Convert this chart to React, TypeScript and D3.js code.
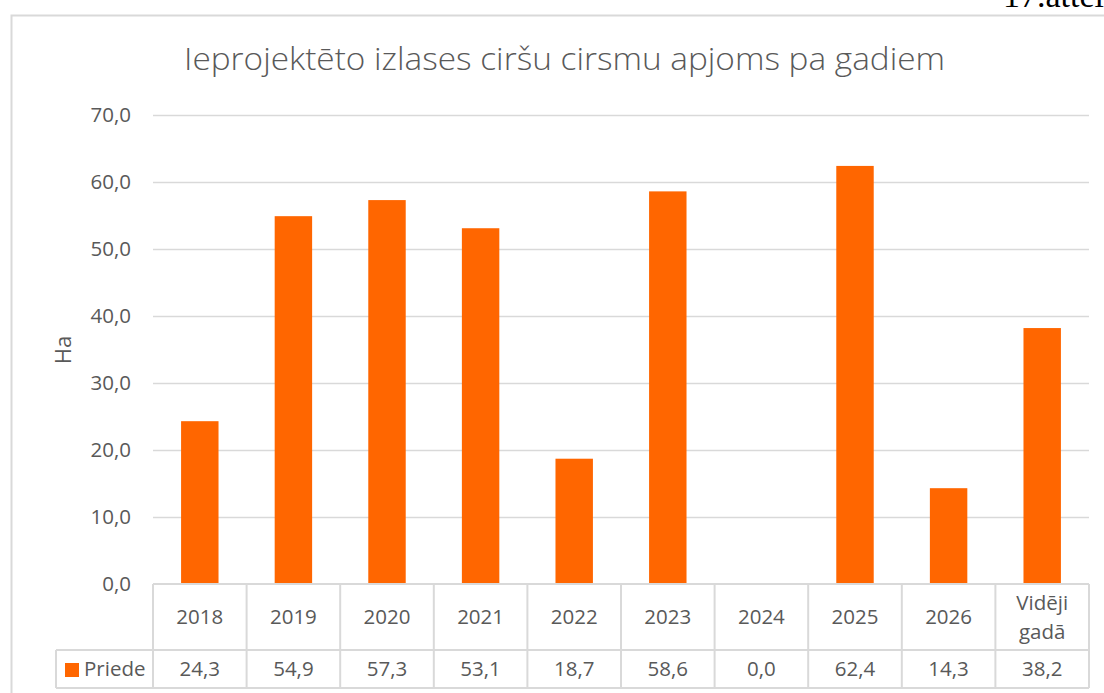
import React from "react";
import * as d3 from "d3";

const categories = ["2018", "2019", "2020", "2021", "2022", "2023", "2024", "2025", "2026", "Vidēji gadā"];
const values = [24.3, 54.9, 57.3, 53.1, 18.7, 58.6, 0.0, 62.4, 14.3, 38.2];
const yTicks = [0, 10, 20, 30, 40, 50, 60, 70];
const seriesName = "Priede";
const title = "Ieprojektēto izlases ciršu cirsmu apjoms pa gadiem";
const yTitle = "Ha";
const figLabel = "17.attēls";

const W = 1104;
const H = 693;
const FONT = "'Open Sans', 'Noto Sans', sans-serif";
const TXT = "#595959";
const GRID = "#d9d9d9";
const ORANGE = "#FF6600";
const FS = 20.5;

const fmt = (v: number) => v.toFixed(1).replace(".", ",");

export default function App() {
  const plotLeft = 153;
  const plotRight = 1089;
  const y = d3.scaleLinear().domain([0, 70]).range([584, 115]);
  const x = d3.scaleBand<string>().domain(categories).range([plotLeft, plotRight]).paddingInner(0).paddingOuter(0);
  const bw = x.bandwidth();
  const barW = bw * 0.4;
  const row1Top = y(0);
  const row1Bot = 650;
  const row2Bot = 688;
  const legLeft = 56;

  return (
    <svg width={W} height={H} style={{ position: "absolute", left: 0, top: 0, background: "#fff" }} fontFamily={FONT}>
      <rect x={0} y={0} width={W} height={H} fill="#fff" />
      <text x={1003} y={7} fontFamily="'Liberation Serif', 'DejaVu Serif', serif" fontSize={34} fill="#000">{figLabel}</text>
      <path d={`M11.5,${H + 5} V15.5 H${W + 5}`} fill="none" stroke={GRID} strokeWidth={2} />
      <text x={184} y={70} textLength={761} lengthAdjust="spacingAndGlyphs" fontSize={32} fontWeight={300} fill={TXT}>{title}</text>
      <text transform={`translate(71,350) rotate(-90)`} textAnchor="middle" fontSize={22} fill={TXT}>{yTitle}</text>
      {yTicks.map((t) => (
        <g key={t}>
          {t > 0 && <line x1={plotLeft} x2={plotRight} y1={Math.round(y(t)) + 0.5} y2={Math.round(y(t)) + 0.5} stroke={GRID} strokeWidth={1.5} />}
          <text x={131} y={y(t)} dy="0.35em" textAnchor="end" fontSize={FS} fill={TXT}>{fmt(t)}</text>
        </g>
      ))}
      {categories.map((c, i) => (
        <rect key={c} x={(x(c) as number) + (bw - barW) / 2} y={y(values[i])} width={barW} height={y(0) - y(values[i])} fill={ORANGE} />
      ))}
      <g stroke={GRID} strokeWidth={2} fill="none">
        <line x1={plotLeft} x2={plotRight} y1={row1Top} y2={row1Top} />
        <line x1={legLeft} x2={plotRight} y1={row1Bot} y2={row1Bot} />
        <line x1={legLeft} x2={plotRight} y1={row2Bot} y2={row2Bot} />
        <line x1={legLeft} x2={legLeft} y1={row1Bot} y2={row2Bot} />
        {categories.map((c) => (
          <line key={c} x1={x(c)} x2={x(c)} y1={row1Top} y2={row2Bot} />
        ))}
        <line x1={plotRight} x2={plotRight} y1={row1Top} y2={row2Bot} />
      </g>
      {categories.map((c, i) => {
        const cx = (x(c) as number) + bw / 2;
        const words = c.split(" ");
        return (
          <g key={c}>
            {words.length === 1 ? (
              <text x={cx} y={(row1Top + row1Bot) / 2} dy="0.35em" textAnchor="middle" fontSize={FS} fill={TXT}>{c}</text>
            ) : (
              words.map((w, j) => (
                <text key={w} x={cx} y={(row1Top + row1Bot) / 2 + (j - 0.5) * 29} dy="0.35em" textAnchor="middle" fontSize={FS} fill={TXT}>{w}</text>
              ))
            )}
            <text x={cx} y={(row1Bot + row2Bot) / 2} dy="0.35em" textAnchor="middle" fontSize={FS} fill={TXT}>{fmt(values[i])}</text>
          </g>
        );
      })}
      <rect x={65} y={663} width={14} height={14} fill={ORANGE} />
      <text x={84} y={(row1Bot + row2Bot) / 2} dy="0.35em" fontSize={FS} fill={TXT}>{seriesName}</text>
    </svg>
  );
}
